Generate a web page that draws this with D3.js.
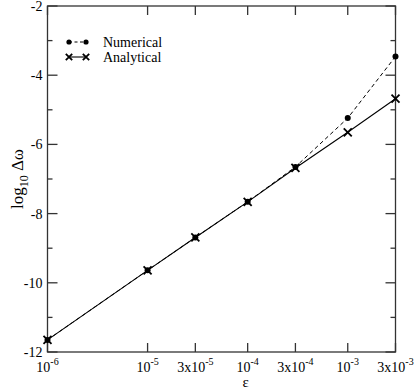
<!DOCTYPE html>
<meta charset="utf-8">
<script src="https://d3js.org/d3.v7.min.js"></script>
<style>
body { margin: 0; background: #fff; }
text { font-family: "Liberation Serif", "DejaVu Serif", serif; }
</style>
<body>
<div id="my_dataviz"></div>
<script>
// data
var eps = [1e-6, 1e-5, 3e-5, 1e-4, 3e-4, 1e-3, 3e-3];
var numerical = [-11.65, -9.64, -8.69, -7.66, -6.65, -5.24, -3.46];
var analytical = [-11.65, -9.64, -8.69, -7.66, -6.68, -5.65, -4.68];
var xTicks = [1e-6, 1e-5, 3e-5, 1e-4, 3e-4, 1e-3, 3e-3];
var xTickLabels = [["", "-6"], ["", "-5"], ["3x", "-5"], ["", "-4"], ["3x", "-4"], ["", "-3"], ["3x", "-3"]];
var yMajor = [-12, -10, -8, -6, -4, -2];
var yMinor = [-11, -9, -7, -5, -3];

var W = 415, H = 389;
var margin = {top: 6, right: 19.5, bottom: 37, left: 47.5};
var width = W - margin.left - margin.right,
    height = H - margin.top - margin.bottom;

var svg = d3.select("#my_dataviz")
  .append("svg")
  .attr("width", W)
  .attr("height", H)
  .append("g")
  .attr("transform", "translate(" + margin.left + "," + margin.top + ")");

var x = d3.scaleLog().domain([1e-6, 3e-3]).range([0, width]);
var y = d3.scaleLinear().domain([-12, -2]).range([height, 0]);

var axisColor = "#333";

// frame
svg.append("rect")
  .attr("x", 0).attr("y", 0)
  .attr("width", width).attr("height", height)
  .attr("fill", "none")
  .attr("stroke", axisColor)
  .attr("stroke-width", 1.3);

// x ticks (bottom & top, pointing inward)
svg.selectAll("xtb").data(xTicks).enter().append("line")
  .attr("x1", d => x(d)).attr("x2", d => x(d))
  .attr("y1", height).attr("y2", height - 9)
  .attr("stroke", axisColor).attr("stroke-width", 1.3);
svg.selectAll("xtt").data(xTicks).enter().append("line")
  .attr("x1", d => x(d)).attr("x2", d => x(d))
  .attr("y1", 0).attr("y2", 9)
  .attr("stroke", axisColor).attr("stroke-width", 1.3);

// y ticks (left & right)
function yTicks(vals, len) {
  svg.selectAll(null).data(vals).enter().append("line")
    .attr("x1", 0).attr("x2", len)
    .attr("y1", d => y(d)).attr("y2", d => y(d))
    .attr("stroke", axisColor).attr("stroke-width", 1.3);
  svg.selectAll(null).data(vals).enter().append("line")
    .attr("x1", width).attr("x2", width - len)
    .attr("y1", d => y(d)).attr("y2", d => y(d))
    .attr("stroke", axisColor).attr("stroke-width", 1.3);
}
yTicks(yMajor, 10);
yTicks(yMinor, 5);

// y tick labels
svg.selectAll("ylab").data(yMajor).enter().append("text")
  .attr("x", -5)
  .attr("y", d => y(d) + 5)
  .attr("text-anchor", "end")
  .attr("font-size", 14)
  .text(d => d);

// x tick labels with superscripts
var xl = svg.selectAll("xlab").data(xTicks).enter().append("text")
  .attr("x", d => x(d))
  .attr("y", height + 20)
  .attr("text-anchor", "middle")
  .attr("font-size", 14);
xl.append("tspan").text((d, i) => xTickLabels[i][0] + "10");
xl.append("tspan")
  .attr("dy", -7)
  .attr("font-size", 10)
  .text((d, i) => xTickLabels[i][1]);

// axis titles
svg.append("text")
  .attr("x", x(1e-4) - 2)
  .attr("y", height + 35)
  .attr("text-anchor", "middle")
  .attr("font-size", 15)
  .text("\u03B5");

var yt = svg.append("text")
  .attr("transform", "translate(-25," + (y(-7)) + ") rotate(-90)")
  .attr("text-anchor", "middle")
  .attr("font-size", 17);
yt.append("tspan").text("log");
yt.append("tspan").attr("dy", 5).attr("font-size", 12).text("10");
yt.append("tspan").attr("dy", -5).text(" \u0394\u03C9");

// lines
var numPts = eps.map((e, i) => [e, numerical[i]]);
var anaPts = eps.map((e, i) => [e, analytical[i]]);
var line = d3.line().x(d => x(d[0])).y(d => y(d[1]));

svg.append("path").datum(numPts)
  .attr("d", line).attr("fill", "none")
  .attr("stroke", "#000").attr("stroke-width", 1)
  .attr("stroke-dasharray", "4,3");
svg.append("path").datum(anaPts)
  .attr("d", line).attr("fill", "none")
  .attr("stroke", "#000").attr("stroke-width", 1.1);

// markers
svg.selectAll("dot").data(numPts).enter().append("circle")
  .attr("cx", d => x(d[0])).attr("cy", d => y(d[1]))
  .attr("r", 3).attr("fill", "#000");

function cross(g, cx, cy, s) {
  g.append("path")
    .attr("d", "M" + (cx - s) + "," + (cy - s) + "L" + (cx + s) + "," + (cy + s) +
               "M" + (cx - s) + "," + (cy + s) + "L" + (cx + s) + "," + (cy - s))
    .attr("stroke", "#000").attr("stroke-width", 1.8);
}
anaPts.forEach(d => cross(svg, x(d[0]), y(d[1]), 4));

// legend
var lg = svg.append("g").attr("transform", "translate(" + (69 - margin.left) + "," + (42 - margin.top) + ")");
lg.append("line").attr("x1", 0).attr("x2", 17).attr("y1", 0).attr("y2", 0)
  .attr("stroke", "#000").attr("stroke-dasharray", "3,2.5");
lg.append("circle").attr("cx", 0).attr("cy", 0).attr("r", 2.6);
lg.append("circle").attr("cx", 17).attr("cy", 0).attr("r", 2.6);
lg.append("text").attr("x", 34).attr("y", 5).attr("font-size", 14).text("Numerical");

var lg2 = svg.append("g").attr("transform", "translate(" + (69 - margin.left) + "," + (57 - margin.top) + ")");
lg2.append("line").attr("x1", 0).attr("x2", 17).attr("y1", 0).attr("y2", 0)
  .attr("stroke", "#000").attr("stroke-width", 1.1);
cross(lg2, 0, 0, 3.2);
cross(lg2, 17, 0, 3.2);
lg2.append("text").attr("x", 34).attr("y", 5).attr("font-size", 14).text("Analytical");
</script>
</body>
